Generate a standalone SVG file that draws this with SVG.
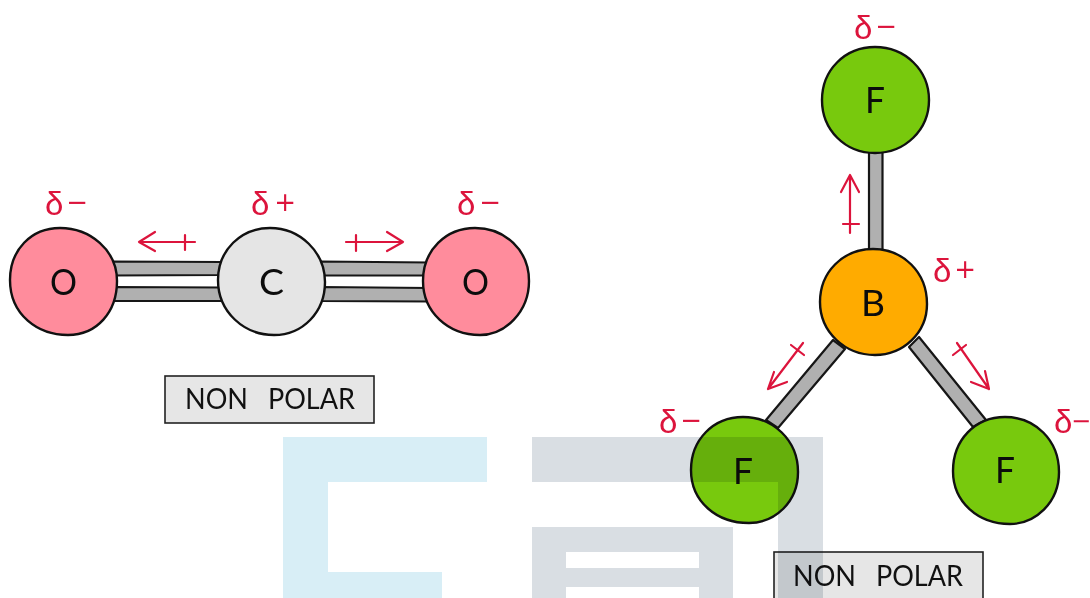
<svg xmlns="http://www.w3.org/2000/svg" width="1090" height="598" viewBox="0 0 1090 598">
<style>
.atom{stroke:#111;stroke-width:2.4;stroke-linejoin:round}
.o{fill:#ff8c9c}.c{fill:#e5e5e5}.f{fill:#78c90d}.b{fill:#ffab00}
.bond{fill:#b0b0b0;stroke:#161616;stroke-width:2.2;stroke-linejoin:round}
.dip{fill:none;stroke:#dc143c;stroke-width:2.2;stroke-linecap:round;stroke-linejoin:round}
.el{font-family:"Lato","Liberation Sans",sans-serif;font-weight:400;font-size:36px;fill:#0c0c0c}
.ch{font-family:"Liberation Sans",sans-serif;font-size:33px;fill:#dc143c}
.s{font-family:"DejaVu Sans",sans-serif;font-size:26px}
.box{fill:#e6e6e6;stroke:#222;stroke-width:1.6}
.lab{font-family:"Lato","Liberation Sans",sans-serif;font-weight:400;font-size:29px;fill:#111;word-spacing:14px}
.wm{mix-blend-mode:multiply}
</style>
<rect width="1090" height="598" fill="#fff"/>
<g id="connectors">
<path class="bond" d="M112 261.500L222 262L222 275L112 275.500Z"/>
<path class="bond" d="M112 287L222 287.500L222 301L112 301Z"/>
<path class="bond" d="M320 261.500L430 262.500L430 275.500L320 275.500Z"/>
<path class="bond" d="M320 287L430 288L430 301.500L320 301Z"/>
<path class="bond" d="M869 150L882.500 150L882.500 254L869 254Z"/>
<path class="bond" d="M833 340L845 349L778 428L766 420Z"/>
<path class="bond" d="M919 337L909 347L973 427L986 420Z"/>
<path class="dip" d="M195 242L139 242M155 232L139 242L155 251M185 235L185 250"/>
<path class="dip" d="M346 242L403 242M387 232L403 242L387 251M356 235L356 251"/>
<path class="dip" d="M850 233L850 175M841 192L850 175L859 192M843 224L859 224"/>
<path class="dip" d="M803 343L768 389M774 372L768 389L787 382M791 345L804 355"/>
<path class="dip" d="M957 343L989 389M971 382L989 389L985 371M953 355L966 345"/>
</g>
<g id="node-o-left">
<path class="atom o" d="M60 228C90 228 117 250 117 281C117 312 97 335 68 335C38 335 10 315 10 280C10 250 31 228 60 228Z"/>
<text class="el" x="50" y="295" textLength="27" lengthAdjust="spacingAndGlyphs">O</text>
<text class="ch" x="45" y="215">δ<tspan class="s" x="66.200" y="211">−</tspan></text>
</g>
<g id="node-c">
<path class="atom c" d="M270 228C300 228 325 252 325 282C325 312 303 335 274 335C244 335 218 312 218 280C218 250 241 228 270 228Z"/>
<text class="el" x="259" y="295" textLength="25" lengthAdjust="spacingAndGlyphs">C</text>
<text class="ch" x="251" y="215">δ<tspan class="s" x="274.200" y="211">+</tspan></text>
</g>
<g id="node-o-right">
<path class="atom o" d="M475 228C505 228 529 250 529 281C529 312 505 335 480 335C448 335 423 312 423 281C423 250 446 228 475 228Z"/>
<text class="el" x="462" y="295" textLength="27" lengthAdjust="spacingAndGlyphs">O</text>
<text class="ch" x="457" y="215">δ<tspan class="s" x="479.200" y="211">−</tspan></text>
</g>
<g id="node-f-top">
<path class="atom f" d="M875 47C905 47 929 70 929 100C929 130 905 153 875 153C845 153 822 130 822 100C822 70 845 47 875 47Z"/>
<text class="el" x="865" y="113" textLength="20" lengthAdjust="spacingAndGlyphs">F</text>
<text class="ch" x="854" y="39">δ<tspan class="s" x="875.200" y="35">−</tspan></text>
</g>
<g id="node-b">
<path class="atom b" d="M873 249C903 249 927 272 927 304C927 333 903 355 875 355C845 355 820 332 820 302C820 272 843 249 873 249Z"/>
<text class="el" x="861" y="316" textLength="24" lengthAdjust="spacingAndGlyphs">B</text>
<text class="ch" x="933" y="282">δ<tspan class="s" x="954.200" y="278">+</tspan></text>
</g>
<g id="node-f-left">
<path class="atom f" d="M743 417C773 417 798 440 798 472C798 502 775 523 749 523C717 523 691 502 691 470C691 440 713 417 743 417Z"/>
<text class="el" x="733" y="484" textLength="20" lengthAdjust="spacingAndGlyphs">F</text>
<text class="ch" x="659" y="433">δ<tspan class="s" x="680.200" y="429">−</tspan></text>
</g>
<g id="node-f-right">
<path class="atom f" d="M1005 417C1035 417 1059 440 1059 472C1059 503 1035 524 1010 524C978 524 953 502 953 471C953 440 975 417 1005 417Z"/>
<text class="el" x="995" y="483" textLength="20" lengthAdjust="spacingAndGlyphs">F</text>
<text class="ch" x="1054" y="433">δ<tspan class="s" x="1071" y="429" style="font-size:24px">−</tspan></text>
</g>
<g id="label-co2">
<rect class="box" x="165" y="376" width="209" height="47"/>
<text class="lab" x="185" y="409" textLength="170" lengthAdjust="spacingAndGlyphs">NON POLAR</text>
</g>
<g id="label-bf3">
<rect class="box" x="774" y="552" width="209" height="50"/>
<text class="lab" x="793" y="586" textLength="170" lengthAdjust="spacingAndGlyphs">NON POLAR</text>
</g>
<g id="watermark" class="wm">
<path fill="#d8eef6" d="M283 437H487V482H328V572H442V598H283Z"/>
<path fill="#d9dee3" fill-rule="evenodd" d="M532 437H823V598H778V482H532ZM532 527H733V598H699V587H566V598H532ZM566 552V568H699V552Z"/>
</g>
</svg>
